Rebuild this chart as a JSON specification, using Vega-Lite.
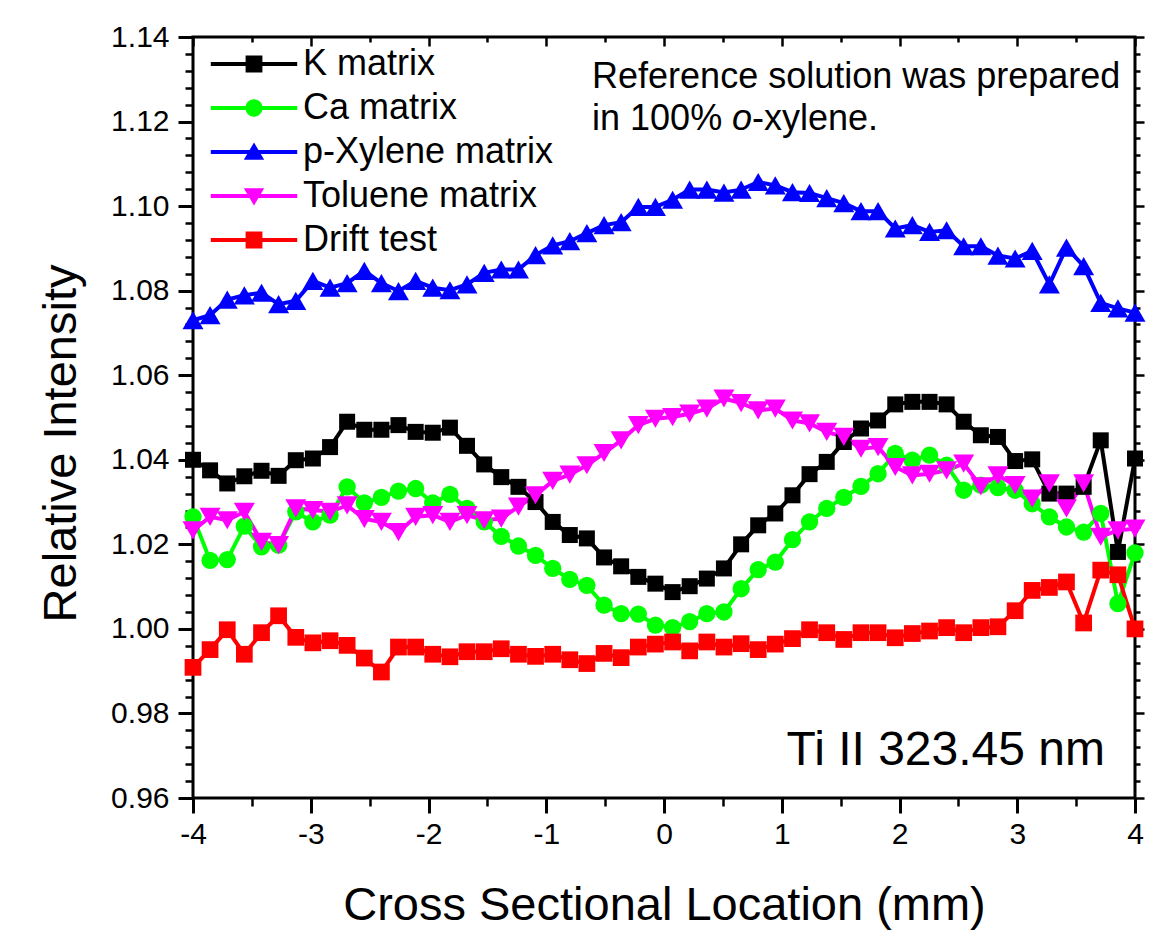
{
  "$schema": "https://vega.github.io/schema/vega-lite/v6.json",
  "width": 942,
  "height": 761,
  "autosize": {"type": "none"},
  "padding": {"left": 193, "top": 37, "right": 14, "bottom": 133},
  "background": "white",
  "config": {
    "view": {"stroke": "black", "strokeWidth": 3},
    "font": "Liberation Sans",
    "axis": {"grid": false, "domain": false, "labelFlush": false, "labelOverlap": false, "tickColor": "black", "tickWidth": 2.5, "labelColor": "black", "titleColor": "black", "titleFontWeight": "normal"}
  },
  "datasets": {
    "d": [
      {"s":"K matrix","x":-4,"y":1.0400},{"s":"K matrix","x":-3.855,"y":1.0375},{"s":"K matrix","x":-3.709,"y":1.0344},{"s":"K matrix","x":-3.564,"y":1.0361},{"s":"K matrix","x":-3.418,"y":1.0374},{"s":"K matrix","x":-3.273,"y":1.0362},{"s":"K matrix","x":-3.127,"y":1.0399},{"s":"K matrix","x":-2.982,"y":1.0403},{"s":"K matrix","x":-2.836,"y":1.0430},{"s":"K matrix","x":-2.691,"y":1.0490},{"s":"K matrix","x":-2.545,"y":1.0471},{"s":"K matrix","x":-2.4,"y":1.0471},{"s":"K matrix","x":-2.255,"y":1.0482},{"s":"K matrix","x":-2.109,"y":1.0466},{"s":"K matrix","x":-1.964,"y":1.0464},{"s":"K matrix","x":-1.818,"y":1.0476},{"s":"K matrix","x":-1.673,"y":1.0433},{"s":"K matrix","x":-1.527,"y":1.0389},{"s":"K matrix","x":-1.382,"y":1.0359},{"s":"K matrix","x":-1.236,"y":1.0336},{"s":"K matrix","x":-1.091,"y":1.0300},{"s":"K matrix","x":-0.945,"y":1.0253},{"s":"K matrix","x":-0.8,"y":1.0222},{"s":"K matrix","x":-0.655,"y":1.0214},{"s":"K matrix","x":-0.509,"y":1.0169},{"s":"K matrix","x":-0.364,"y":1.0148},{"s":"K matrix","x":-0.218,"y":1.0123},{"s":"K matrix","x":-0.073,"y":1.0107},{"s":"K matrix","x":0.073,"y":1.0087},{"s":"K matrix","x":0.218,"y":1.0101},{"s":"K matrix","x":0.364,"y":1.0119},{"s":"K matrix","x":0.509,"y":1.0143},{"s":"K matrix","x":0.655,"y":1.0200},{"s":"K matrix","x":0.8,"y":1.0245},{"s":"K matrix","x":0.945,"y":1.0273},{"s":"K matrix","x":1.091,"y":1.0316},{"s":"K matrix","x":1.236,"y":1.0366},{"s":"K matrix","x":1.382,"y":1.0395},{"s":"K matrix","x":1.527,"y":1.0442},{"s":"K matrix","x":1.673,"y":1.0474},{"s":"K matrix","x":1.818,"y":1.0493},{"s":"K matrix","x":1.964,"y":1.0531},{"s":"K matrix","x":2.109,"y":1.0537},{"s":"K matrix","x":2.255,"y":1.0537},{"s":"K matrix","x":2.4,"y":1.0531},{"s":"K matrix","x":2.545,"y":1.0490},{"s":"K matrix","x":2.691,"y":1.0458},{"s":"K matrix","x":2.836,"y":1.0454},{"s":"K matrix","x":2.982,"y":1.0397},{"s":"K matrix","x":3.127,"y":1.0401},{"s":"K matrix","x":3.273,"y":1.0320},{"s":"K matrix","x":3.418,"y":1.0320},{"s":"K matrix","x":3.564,"y":1.0336},{"s":"K matrix","x":3.709,"y":1.0446},{"s":"K matrix","x":3.855,"y":1.0182},{"s":"K matrix","x":4,"y":1.0403},
      {"s":"Ca matrix","x":-4,"y":1.0265},{"s":"Ca matrix","x":-3.855,"y":1.0162},{"s":"Ca matrix","x":-3.709,"y":1.0164},{"s":"Ca matrix","x":-3.564,"y":1.0243},{"s":"Ca matrix","x":-3.418,"y":1.0194},{"s":"Ca matrix","x":-3.273,"y":1.0198},{"s":"Ca matrix","x":-3.127,"y":1.0277},{"s":"Ca matrix","x":-2.982,"y":1.0253},{"s":"Ca matrix","x":-2.836,"y":1.0269},{"s":"Ca matrix","x":-2.691,"y":1.0336},{"s":"Ca matrix","x":-2.545,"y":1.0298},{"s":"Ca matrix","x":-2.4,"y":1.0311},{"s":"Ca matrix","x":-2.255,"y":1.0326},{"s":"Ca matrix","x":-2.109,"y":1.0332},{"s":"Ca matrix","x":-1.964,"y":1.0298},{"s":"Ca matrix","x":-1.818,"y":1.0318},{"s":"Ca matrix","x":-1.673,"y":1.0285},{"s":"Ca matrix","x":-1.527,"y":1.0253},{"s":"Ca matrix","x":-1.382,"y":1.0219},{"s":"Ca matrix","x":-1.236,"y":1.0196},{"s":"Ca matrix","x":-1.091,"y":1.0174},{"s":"Ca matrix","x":-0.945,"y":1.0143},{"s":"Ca matrix","x":-0.8,"y":1.0117},{"s":"Ca matrix","x":-0.655,"y":1.0103},{"s":"Ca matrix","x":-0.509,"y":1.0056},{"s":"Ca matrix","x":-0.364,"y":1.0036},{"s":"Ca matrix","x":-0.218,"y":1.0035},{"s":"Ca matrix","x":-0.073,"y":1.0009},{"s":"Ca matrix","x":0.073,"y":1.0003},{"s":"Ca matrix","x":0.218,"y":1.0017},{"s":"Ca matrix","x":0.364,"y":1.0036},{"s":"Ca matrix","x":0.509,"y":1.0040},{"s":"Ca matrix","x":0.655,"y":1.0095},{"s":"Ca matrix","x":0.8,"y":1.0140},{"s":"Ca matrix","x":0.945,"y":1.0158},{"s":"Ca matrix","x":1.091,"y":1.0211},{"s":"Ca matrix","x":1.236,"y":1.0253},{"s":"Ca matrix","x":1.382,"y":1.0285},{"s":"Ca matrix","x":1.527,"y":1.0311},{"s":"Ca matrix","x":1.673,"y":1.0337},{"s":"Ca matrix","x":1.818,"y":1.0367},{"s":"Ca matrix","x":1.964,"y":1.0415},{"s":"Ca matrix","x":2.109,"y":1.0399},{"s":"Ca matrix","x":2.255,"y":1.0411},{"s":"Ca matrix","x":2.4,"y":1.0387},{"s":"Ca matrix","x":2.545,"y":1.0328},{"s":"Ca matrix","x":2.691,"y":1.0340},{"s":"Ca matrix","x":2.836,"y":1.0334},{"s":"Ca matrix","x":2.982,"y":1.0328},{"s":"Ca matrix","x":3.127,"y":1.0296},{"s":"Ca matrix","x":3.273,"y":1.0265},{"s":"Ca matrix","x":3.418,"y":1.0241},{"s":"Ca matrix","x":3.564,"y":1.0229},{"s":"Ca matrix","x":3.709,"y":1.0273},{"s":"Ca matrix","x":3.855,"y":1.0060},{"s":"Ca matrix","x":4,"y":1.0180},
      {"s":"p-Xylene matrix","x":-4,"y":1.0730},{"s":"p-Xylene matrix","x":-3.855,"y":1.0742},{"s":"p-Xylene matrix","x":-3.709,"y":1.0779},{"s":"p-Xylene matrix","x":-3.564,"y":1.0789},{"s":"p-Xylene matrix","x":-3.418,"y":1.0795},{"s":"p-Xylene matrix","x":-3.273,"y":1.0768},{"s":"p-Xylene matrix","x":-3.127,"y":1.0776},{"s":"p-Xylene matrix","x":-2.982,"y":1.0823},{"s":"p-Xylene matrix","x":-2.836,"y":1.0807},{"s":"p-Xylene matrix","x":-2.691,"y":1.0818},{"s":"p-Xylene matrix","x":-2.545,"y":1.0847},{"s":"p-Xylene matrix","x":-2.4,"y":1.0818},{"s":"p-Xylene matrix","x":-2.255,"y":1.0799},{"s":"p-Xylene matrix","x":-2.109,"y":1.0823},{"s":"p-Xylene matrix","x":-1.964,"y":1.0807},{"s":"p-Xylene matrix","x":-1.818,"y":1.0801},{"s":"p-Xylene matrix","x":-1.673,"y":1.0815},{"s":"p-Xylene matrix","x":-1.527,"y":1.0842},{"s":"p-Xylene matrix","x":-1.382,"y":1.0850},{"s":"p-Xylene matrix","x":-1.236,"y":1.0850},{"s":"p-Xylene matrix","x":-1.091,"y":1.0884},{"s":"p-Xylene matrix","x":-0.945,"y":1.0907},{"s":"p-Xylene matrix","x":-0.8,"y":1.0917},{"s":"p-Xylene matrix","x":-0.655,"y":1.0936},{"s":"p-Xylene matrix","x":-0.509,"y":1.0955},{"s":"p-Xylene matrix","x":-0.364,"y":1.0962},{"s":"p-Xylene matrix","x":-0.218,"y":1.0998},{"s":"p-Xylene matrix","x":-0.073,"y":1.0998},{"s":"p-Xylene matrix","x":0.073,"y":1.1015},{"s":"p-Xylene matrix","x":0.218,"y":1.1039},{"s":"p-Xylene matrix","x":0.364,"y":1.1039},{"s":"p-Xylene matrix","x":0.509,"y":1.1032},{"s":"p-Xylene matrix","x":0.655,"y":1.1039},{"s":"p-Xylene matrix","x":0.8,"y":1.1057},{"s":"p-Xylene matrix","x":0.945,"y":1.1049},{"s":"p-Xylene matrix","x":1.091,"y":1.1033},{"s":"p-Xylene matrix","x":1.236,"y":1.1031},{"s":"p-Xylene matrix","x":1.382,"y":1.1019},{"s":"p-Xylene matrix","x":1.527,"y":1.1007},{"s":"p-Xylene matrix","x":1.673,"y":1.0988},{"s":"p-Xylene matrix","x":1.818,"y":1.0988},{"s":"p-Xylene matrix","x":1.964,"y":1.0947},{"s":"p-Xylene matrix","x":2.109,"y":1.0955},{"s":"p-Xylene matrix","x":2.255,"y":1.0939},{"s":"p-Xylene matrix","x":2.4,"y":1.0943},{"s":"p-Xylene matrix","x":2.545,"y":1.0905},{"s":"p-Xylene matrix","x":2.691,"y":1.0905},{"s":"p-Xylene matrix","x":2.836,"y":1.0883},{"s":"p-Xylene matrix","x":2.982,"y":1.0876},{"s":"p-Xylene matrix","x":3.127,"y":1.0894},{"s":"p-Xylene matrix","x":3.273,"y":1.0815},{"s":"p-Xylene matrix","x":3.418,"y":1.0902},{"s":"p-Xylene matrix","x":3.564,"y":1.0858},{"s":"p-Xylene matrix","x":3.709,"y":1.0771},{"s":"p-Xylene matrix","x":3.855,"y":1.0758},{"s":"p-Xylene matrix","x":4,"y":1.0748},
      {"s":"Toluene matrix","x":-4,"y":1.0233},{"s":"Toluene matrix","x":-3.855,"y":1.0265},{"s":"Toluene matrix","x":-3.709,"y":1.0257},{"s":"Toluene matrix","x":-3.564,"y":1.0277},{"s":"Toluene matrix","x":-3.418,"y":1.0206},{"s":"Toluene matrix","x":-3.273,"y":1.0198},{"s":"Toluene matrix","x":-3.127,"y":1.0285},{"s":"Toluene matrix","x":-2.982,"y":1.0281},{"s":"Toluene matrix","x":-2.836,"y":1.0277},{"s":"Toluene matrix","x":-2.691,"y":1.0292},{"s":"Toluene matrix","x":-2.545,"y":1.0260},{"s":"Toluene matrix","x":-2.4,"y":1.0253},{"s":"Toluene matrix","x":-2.255,"y":1.0229},{"s":"Toluene matrix","x":-2.109,"y":1.0265},{"s":"Toluene matrix","x":-1.964,"y":1.0269},{"s":"Toluene matrix","x":-1.818,"y":1.0253},{"s":"Toluene matrix","x":-1.673,"y":1.0269},{"s":"Toluene matrix","x":-1.527,"y":1.0257},{"s":"Toluene matrix","x":-1.382,"y":1.0261},{"s":"Toluene matrix","x":-1.236,"y":1.0289},{"s":"Toluene matrix","x":-1.091,"y":1.0316},{"s":"Toluene matrix","x":-0.945,"y":1.0350},{"s":"Toluene matrix","x":-0.8,"y":1.0365},{"s":"Toluene matrix","x":-0.655,"y":1.0387},{"s":"Toluene matrix","x":-0.509,"y":1.0416},{"s":"Toluene matrix","x":-0.364,"y":1.0446},{"s":"Toluene matrix","x":-0.218,"y":1.0482},{"s":"Toluene matrix","x":-0.073,"y":1.0497},{"s":"Toluene matrix","x":0.073,"y":1.0501},{"s":"Toluene matrix","x":0.218,"y":1.0509},{"s":"Toluene matrix","x":0.364,"y":1.0521},{"s":"Toluene matrix","x":0.509,"y":1.0545},{"s":"Toluene matrix","x":0.655,"y":1.0534},{"s":"Toluene matrix","x":0.8,"y":1.0517},{"s":"Toluene matrix","x":0.945,"y":1.0521},{"s":"Toluene matrix","x":1.091,"y":1.0493},{"s":"Toluene matrix","x":1.236,"y":1.0486},{"s":"Toluene matrix","x":1.382,"y":1.0466},{"s":"Toluene matrix","x":1.527,"y":1.0454},{"s":"Toluene matrix","x":1.673,"y":1.0426},{"s":"Toluene matrix","x":1.818,"y":1.0430},{"s":"Toluene matrix","x":1.964,"y":1.0383},{"s":"Toluene matrix","x":2.109,"y":1.0363},{"s":"Toluene matrix","x":2.255,"y":1.0367},{"s":"Toluene matrix","x":2.4,"y":1.0375},{"s":"Toluene matrix","x":2.545,"y":1.0391},{"s":"Toluene matrix","x":2.691,"y":1.0337},{"s":"Toluene matrix","x":2.836,"y":1.0363},{"s":"Toluene matrix","x":2.982,"y":1.0340},{"s":"Toluene matrix","x":3.127,"y":1.0308},{"s":"Toluene matrix","x":3.273,"y":1.0344},{"s":"Toluene matrix","x":3.418,"y":1.0285},{"s":"Toluene matrix","x":3.564,"y":1.0344},{"s":"Toluene matrix","x":3.709,"y":1.0218},{"s":"Toluene matrix","x":3.855,"y":1.0233},{"s":"Toluene matrix","x":4,"y":1.0237},
      {"s":"Drift test","x":-4,"y":0.9909},{"s":"Drift test","x":-3.855,"y":0.9951},{"s":"Drift test","x":-3.709,"y":0.9998},{"s":"Drift test","x":-3.564,"y":0.9940},{"s":"Drift test","x":-3.418,"y":0.9991},{"s":"Drift test","x":-3.273,"y":1.0031},{"s":"Drift test","x":-3.127,"y":0.9980},{"s":"Drift test","x":-2.982,"y":0.9967},{"s":"Drift test","x":-2.836,"y":0.9972},{"s":"Drift test","x":-2.691,"y":0.9961},{"s":"Drift test","x":-2.545,"y":0.9931},{"s":"Drift test","x":-2.4,"y":0.9898},{"s":"Drift test","x":-2.255,"y":0.9957},{"s":"Drift test","x":-2.109,"y":0.9957},{"s":"Drift test","x":-1.964,"y":0.9940},{"s":"Drift test","x":-1.818,"y":0.9934},{"s":"Drift test","x":-1.673,"y":0.9946},{"s":"Drift test","x":-1.527,"y":0.9946},{"s":"Drift test","x":-1.382,"y":0.9953},{"s":"Drift test","x":-1.236,"y":0.9940},{"s":"Drift test","x":-1.091,"y":0.9935},{"s":"Drift test","x":-0.945,"y":0.9940},{"s":"Drift test","x":-0.8,"y":0.9927},{"s":"Drift test","x":-0.655,"y":0.9918},{"s":"Drift test","x":-0.509,"y":0.9942},{"s":"Drift test","x":-0.364,"y":0.9932},{"s":"Drift test","x":-0.218,"y":0.9957},{"s":"Drift test","x":-0.073,"y":0.9964},{"s":"Drift test","x":0.073,"y":0.9969},{"s":"Drift test","x":0.218,"y":0.9948},{"s":"Drift test","x":0.364,"y":0.9969},{"s":"Drift test","x":0.509,"y":0.9957},{"s":"Drift test","x":0.655,"y":0.9965},{"s":"Drift test","x":0.8,"y":0.9951},{"s":"Drift test","x":0.945,"y":0.9964},{"s":"Drift test","x":1.091,"y":0.9977},{"s":"Drift test","x":1.236,"y":0.9998},{"s":"Drift test","x":1.382,"y":0.9991},{"s":"Drift test","x":1.527,"y":0.9975},{"s":"Drift test","x":1.673,"y":0.9991},{"s":"Drift test","x":1.818,"y":0.9991},{"s":"Drift test","x":1.964,"y":0.9979},{"s":"Drift test","x":2.109,"y":0.9989},{"s":"Drift test","x":2.255,"y":0.9995},{"s":"Drift test","x":2.4,"y":1.0003},{"s":"Drift test","x":2.545,"y":0.9991},{"s":"Drift test","x":2.691,"y":1.0003},{"s":"Drift test","x":2.836,"y":1.0005},{"s":"Drift test","x":2.982,"y":1.0043},{"s":"Drift test","x":3.127,"y":1.0091},{"s":"Drift test","x":3.273,"y":1.0098},{"s":"Drift test","x":3.418,"y":1.0111},{"s":"Drift test","x":3.564,"y":1.0014},{"s":"Drift test","x":3.709,"y":1.0139},{"s":"Drift test","x":3.855,"y":1.0128},{"s":"Drift test","x":4,"y":1.0000}
    ]
  },
  "resolve": {"axis": {"x": "independent", "y": "independent"}, "scale": {"shape": "independent", "fill": "independent"}},
  "layer": [
    {
      "mark": {"type": "rule", "color": "black", "strokeWidth": 4},
      "encoding": {
        "y": {"datum": 1, "type": "quantitative", "scale": {"domain": [0.96, 1.14], "nice": false, "zero": false},
          "axis": {"orient": "left", "values": [0.96,0.964,0.968,0.972,0.976,0.98,0.984,0.988,0.992,0.996,1.0,1.004,1.008,1.012,1.016,1.02,1.024,1.028,1.032,1.036,1.04,1.044,1.048,1.052,1.056,1.06,1.064,1.068,1.072,1.076,1.08,1.084,1.088,1.092,1.096,1.1,1.104,1.108,1.112,1.116,1.12,1.124,1.128,1.132,1.136,1.14], "labels": false, "tickSize": 8, "title": null}}
      }
    },
    {
      "data": {"name": "d"},
      "mark": {"type": "line", "strokeWidth": 4},
      "encoding": {
        "x": {"field": "x", "type": "quantitative", "scale": {"domain": [-4, 4], "nice": false},
          "axis": {"orient": "bottom", "values": [-4,-3,-2,-1,0,1,2,3,4], "tickSize": 15, "tickWidth": 3, "labelFontSize": 30, "labelPadding": 6, "labelExpr": "'' + datum.value", "title": "Cross Sectional Location (mm)", "titleFontSize": 47, "titlePadding": 33}},
        "y": {"field": "y", "type": "quantitative", "scale": {"domain": [0.96, 1.14], "nice": false, "zero": false},
          "axis": {"orient": "left", "values": [0.96,0.98,1.0,1.02,1.04,1.06,1.08,1.1,1.12,1.14], "format": ".2f", "tickSize": 15, "tickWidth": 3, "labelFontSize": 30, "labelPadding": 9, "title": "Relative Intensity", "titleFontSize": 47, "titlePadding": 25, "titleY": 406}},
        "color": {"field": "s", "type": "nominal", "scale": {"domain": ["K matrix","Ca matrix","p-Xylene matrix","Toluene matrix","Drift test"], "range": ["#000000","#00ff00","#0000ff","#ff00ff","#ff0000"]}, "legend": null}
      }
    },
    {
      "data": {"name": "d"},
      "mark": {"type": "point", "filled": true, "opacity": 1, "strokeWidth": 0},
      "encoding": {
        "x": {"field": "x", "type": "quantitative",
          "axis": {"orient": "top", "values": [-4,-3,-2,-1,0,1,2,3,4], "labels": false, "tickSize": -9, "title": null}},
        "y": {"field": "y", "type": "quantitative",
          "axis": {"orient": "right", "values": [0.96,0.98,1.0,1.02,1.04,1.06,1.08,1.1,1.12,1.14], "labels": false, "tickSize": 9, "title": null}},
        "color": {"field": "s", "type": "nominal", "legend": null},
        "shape": {"field": "s", "type": "nominal", "scale": {"domain": ["K matrix","Ca matrix","p-Xylene matrix","Toluene matrix","Drift test"], "range": ["square","circle","triangle-up","triangle-down","square"]}, "legend": null},
        "size": {"field": "s", "type": "nominal", "scale": {"type": "ordinal", "domain": ["K matrix","Ca matrix","p-Xylene matrix","Toluene matrix","Drift test"], "range": [256, 300, 440, 440, 280]}, "legend": null}
      }
    },
    {
      "data": {"name": "d"},
      "transform": [{"filter": "datum.x > 100"}],
      "mark": {"type": "point", "filled": true, "opacity": 1, "strokeWidth": 0, "size": 576},
      "encoding": {
        "x": {"field": "x", "type": "quantitative", "axis": null},
        "y": {"field": "y", "type": "quantitative", "axis": null},
        "fill": {"field": "s", "type": "nominal", "scale": {"domain": ["K matrix","Ca matrix","p-Xylene matrix","Toluene matrix","Drift test"], "range": ["#000000","#00ff00","#0000ff","#ff00ff","#ff0000"]},
          "legend": {"orient": "none", "legendX": 43, "legendY": 9, "title": null, "padding": 0, "labelFontSize": 36, "labelColor": "black", "labelFont": "Liberation Sans", "symbolSize": 576, "labelOffset": 31, "rowPadding": 8, "symbolOpacity": 1, "symbolStrokeWidth": 0, "labelLimit": 0}},
        "shape": {"field": "s", "type": "nominal", "scale": {"domain": ["K matrix","Ca matrix","p-Xylene matrix","Toluene matrix","Drift test"], "range": [
          "M-3.6,-0.17H3.6V0.17H-3.6Z M-0.7,-0.7H0.7V0.7H-0.7Z",
          "M-3.6,-0.17H3.6V0.17H-3.6Z M-0.72,0A0.72,0.72 0 1,1 0.72,0A0.72,0.72 0 1,1 -0.72,0Z",
          "M-3.6,-0.17H3.6V0.17H-3.6Z M0,-0.8L0.85,0.65L-0.85,0.65Z",
          "M-3.6,-0.17H3.6V0.17H-3.6Z M0,0.8L-0.85,-0.65L0.85,-0.65Z",
          "M-3.6,-0.17H3.6V0.17H-3.6Z M-0.7,-0.7H0.7V0.7H-0.7Z"]},
          "legend": {"orient": "none", "legendX": 43, "legendY": 9, "title": null, "padding": 0, "labelFontSize": 36, "labelColor": "black", "labelFont": "Liberation Sans", "symbolSize": 576, "labelOffset": 31, "rowPadding": 8, "symbolOpacity": 1, "symbolStrokeWidth": 0, "labelLimit": 0}}
      }
    },
    {
      "data": {"values": [{}]},
      "mark": {"type": "text", "text": "Reference solution was prepared", "align": "left", "baseline": "alphabetic", "fontSize": 36, "color": "black"},
      "encoding": {
        "x": {"datum": -0.611, "type": "quantitative", "axis": {"orient": "bottom", "values": [-3.5,-2.5,-1.5,-0.5,0.5,1.5,2.5,3.5], "labels": false, "tickSize": 8, "title": null}},
        "y": {"datum": 1.1279, "type": "quantitative", "axis": {"orient": "right", "values": [0.964,0.968,0.972,0.976,0.984,0.988,0.992,0.996,1.004,1.008,1.012,1.016,1.024,1.028,1.032,1.036,1.044,1.048,1.052,1.056,1.064,1.068,1.072,1.076,1.084,1.088,1.092,1.096,1.104,1.108,1.112,1.116,1.124,1.128,1.132,1.136], "labels": false, "tickSize": 5, "title": null}}
      }
    },
    {
      "data": {"values": [{}]},
      "mark": {"type": "text", "text": "in 100% ", "align": "left", "baseline": "alphabetic", "fontSize": 36, "color": "black"},
      "encoding": {
        "x": {"datum": -0.611, "type": "quantitative", "axis": {"orient": "top", "values": [-3.5,-2.5,-1.5,-0.5,0.5,1.5,2.5,3.5], "labels": false, "tickSize": -5, "title": null}},
        "y": {"datum": 1.1179, "type": "quantitative", "axis": null}
      }
    },
    {
      "data": {"values": [{}]},
      "mark": {"type": "text", "text": "o", "align": "left", "baseline": "alphabetic", "fontSize": 36, "fontStyle": "italic", "color": "black", "dx": 140},
      "encoding": {
        "x": {"datum": -0.611, "type": "quantitative", "axis": null},
        "y": {"datum": 1.1179, "type": "quantitative", "axis": null}
      }
    },
    {
      "data": {"values": [{}]},
      "mark": {"type": "text", "text": "-xylene.", "align": "left", "baseline": "alphabetic", "fontSize": 36, "color": "black", "dx": 160},
      "encoding": {
        "x": {"datum": -0.611, "type": "quantitative", "axis": null},
        "y": {"datum": 1.1179, "type": "quantitative", "axis": null}
      }
    },
    {
      "data": {"values": [{}]},
      "mark": {"type": "text", "text": "Ti II 323.45 nm", "align": "right", "baseline": "alphabetic", "fontSize": 48, "color": "black"},
      "encoding": {
        "x": {"datum": 3.745, "type": "quantitative", "axis": null},
        "y": {"datum": 0.9678, "type": "quantitative", "axis": null}
      }
    }
  ]
}
